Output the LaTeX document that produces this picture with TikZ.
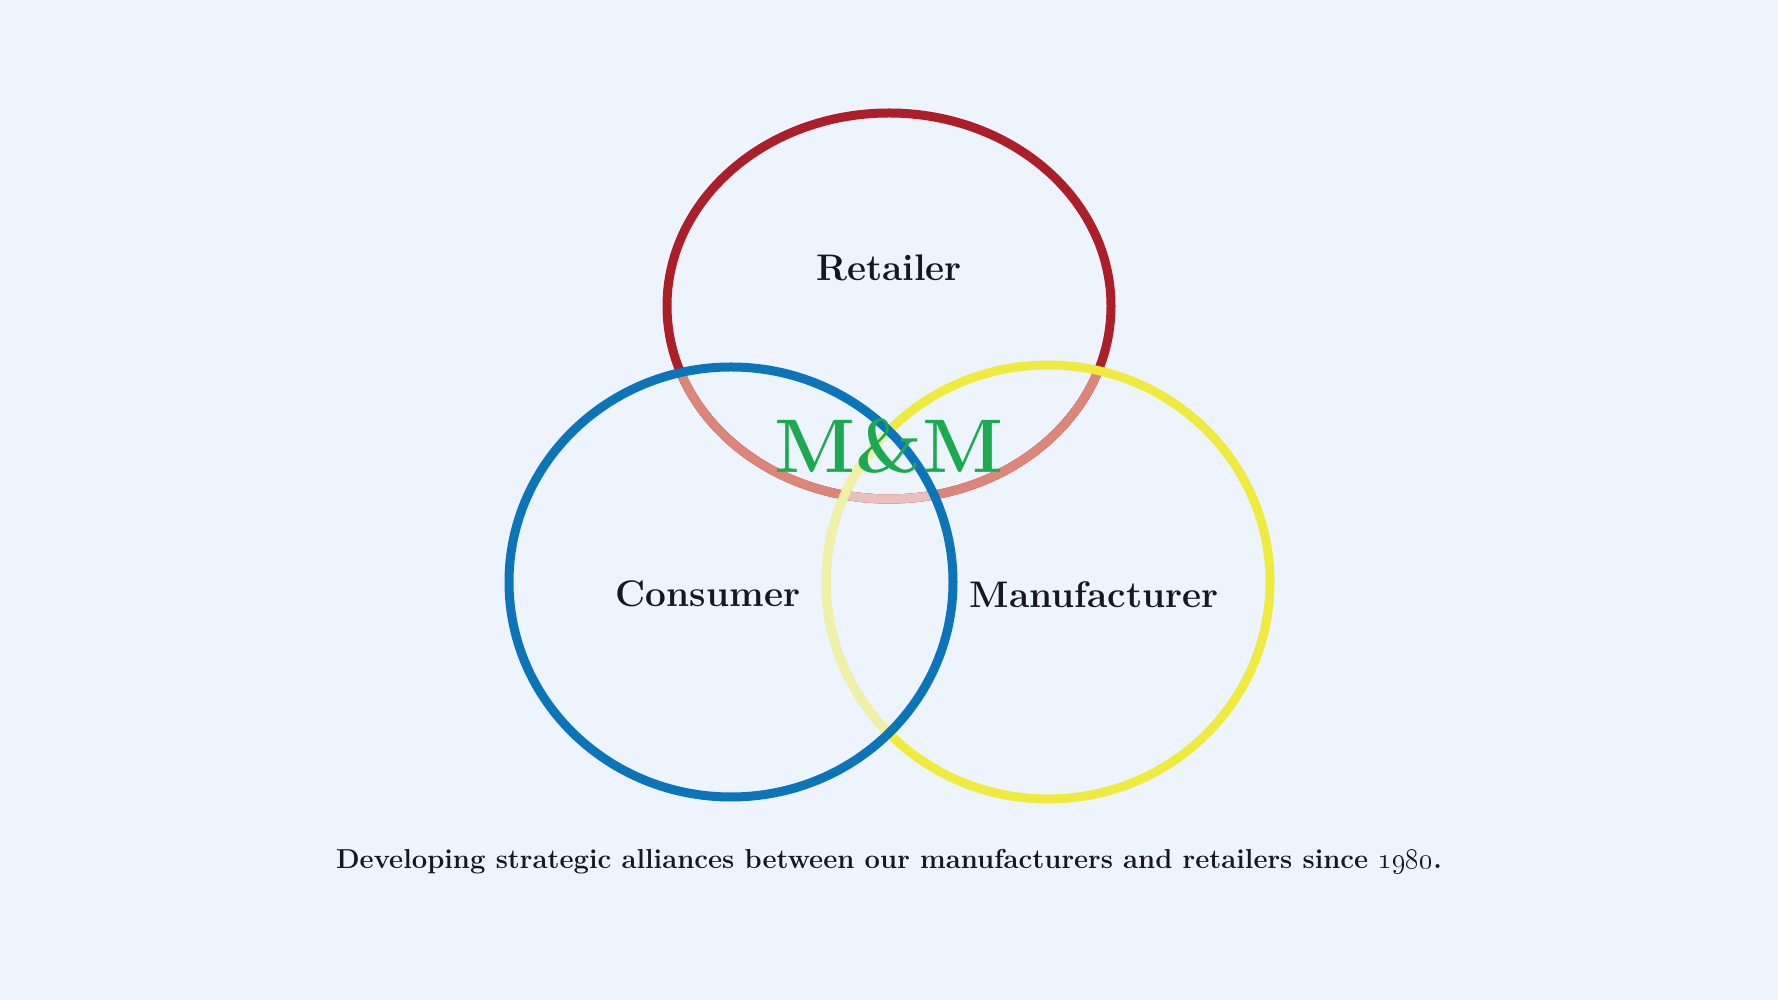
\documentclass[tikz,border=0pt]{standalone}
\usepackage{tikz}

\definecolor{fundo}{RGB}{238,244,253}
\definecolor{vermelho}{RGB}{172,30,40}
\definecolor{salmao}{RGB}{219,134,120}
\definecolor{rosado}{RGB}{232,192,188}
\definecolor{azul}{RGB}{12,116,184}
\definecolor{amarelo}{RGB}{240,234,62}
\definecolor{palha}{RGB}{240,241,168}
\definecolor{verde}{RGB}{28,170,80}
\definecolor{tinta}{RGB}{24,22,34}

\begin{document}
\begin{tikzpicture}[x=0.5pt,y=0.5pt]

\newcommand{\lx}{222}
\newcommand{\lw}{4.5pt}
\newcommand{\varejo}{(889,694) ellipse ({\lx} and 193)}
\newcommand{\fabrica}{(1048,418) ellipse ({\lx} and 217)}
\newcommand{\cliente}{(731,418) ellipse ({\lx} and 215)}

\tikzstyle{anel}=[line width=\lw]
\tikzstyle{papel}=[font=\bfseries\fontsize{18.5}{20}\selectfont,text=tinta,inner sep=0]

\fill[fundo] (0,0) rectangle (1778,1000);
\useasboundingbox (0,0) rectangle (1778,1000);

% retailer ring, faded where the others cover it
\draw[anel,vermelho] \varejo;
\begin{scope}
    \clip \cliente;
    \draw[anel,salmao] \varejo;
\end{scope}
\begin{scope}
    \clip \fabrica;
    \draw[anel,salmao] \varejo;
\end{scope}
\begin{scope}
    \clip \cliente;
    \clip \fabrica;
    \draw[anel,rosado] \varejo;
\end{scope}

% manufacturer ring
\draw[anel,amarelo] \fabrica;
\begin{scope}
    \clip \cliente;
    \draw[anel,palha] \fabrica;
\end{scope}

% consumer ring
\draw[anel,azul] \cliente;

\node[papel] (retailer) at (889,732) {Retailer};
\node[papel] (consumer) at (708,406) {Consumer};
\node[papel] (manufacturer) at (1094,405) {Manufacturer};

\node[font=\bfseries\fontsize{38}{40}\selectfont,text=verde,inner sep=0] (mm) at (889,554) {M\&M};

\node[font=\bfseries\fontsize{13.7}{15}\selectfont,text=tinta,inner sep=0] (lema) at (889,138)
    {Developing strategic alliances between our manufacturers and retailers since \oldstylenums{1980}.};

\end{tikzpicture}
\end{document}
